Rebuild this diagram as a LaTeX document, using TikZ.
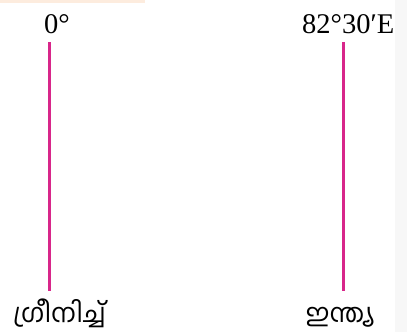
\documentclass[tikz,border=0pt]{standalone}
\usepackage{fontspec}
\setmainfont{Liberation Serif}
\newfontfamily\mlfont[Script=Malayalam]{Hind Kochi}
\definecolor{meridian}{RGB}{216,38,138}
\definecolor{peach}{RGB}{253,236,222}
\definecolor{edgegrey}{RGB}{247,247,247}
\begin{document}
\begin{tikzpicture}[x=1pt,y=-1pt,
  deg/.style={inner sep=0pt,anchor=base west,font=\fontsize{28.5}{30}\selectfont},
  place/.style={inner sep=0pt,anchor=base,text height=17pt,text depth=7pt,font=\mlfont\fontsize{26}{28}\selectfont},
  meridianline/.style={draw=meridian,line width=2.6pt}]
\useasboundingbox (0,0) rectangle (407,332);
\fill[edgegrey] (395,0) rectangle (407,332);
\fill[peach] (0,0) rectangle (145,3);
\node[deg] (d0) at (44,33) {0°};
\node[deg] (d82) at (302,33) {82°30′E};
\node[place] (gr) at (59.5,322) {ഗ്രീനിച്ച്};
\node[place] (in) at (340,322) {ഇന്ത്യ};
\coordinate (gt) at (49.5,42);
\coordinate (gb) at (49.5,291);
\coordinate (it) at (343.5,42);
\coordinate (ib) at (343.5,291);
\draw[meridianline] (gt) -- (gb);
\draw[meridianline] (it) -- (ib);
\end{tikzpicture}
\end{document}
